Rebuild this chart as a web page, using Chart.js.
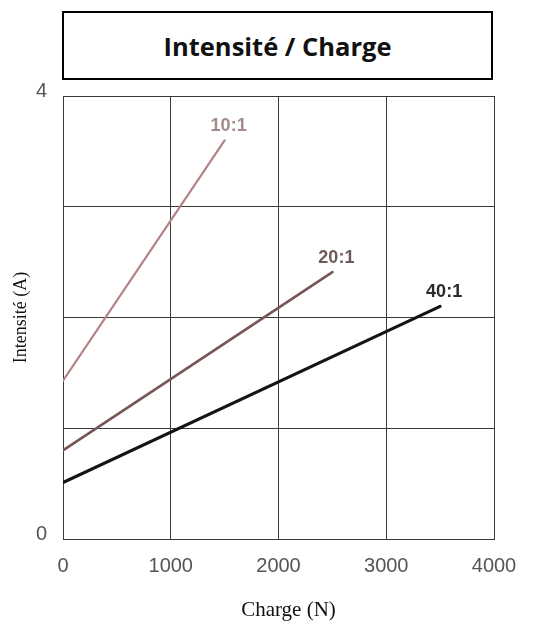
<!DOCTYPE html>
<html>
<head>
<meta charset="utf-8">
<script src="https://cdn.jsdelivr.net/npm/chart.js@4.4.1/dist/chart.umd.min.js"></script>
<style>
  html, body { margin: 0; padding: 0; background: #fff; }
  #wrap { position: relative; width: 539px; height: 625px; }
  #titlebox {
    position: absolute; left: 62px; top: 11px; width: 427px; height: 65px;
    border: 2px solid #000; background: #fff;
    display: flex; align-items: center; justify-content: center;
    font-family: "Open Sans", sans-serif; font-weight: bold; font-size: 25.5px; color: #111;
    box-sizing: content-box;
  }
  canvas { position: absolute; left: 0; top: 0; }
</style>
</head>
<body>
<div id="wrap">
  <canvas id="c" width="539" height="625"></canvas>
  <div id="titlebox">Intensité / Charge</div>
</div>
<script>
// Data
const seriesNames = ["10:1", "20:1", "40:1"];
const chargeN = [
  [0, 1500],
  [0, 2500],
  [0, 3500]
];
const intensiteA = [
  [1.43, 3.60],
  [0.80, 2.41],
  [0.51, 2.10]
];
const xTicks = [0, 1000, 2000, 3000, 4000];
const yTicksShown = [0, 4];
const xTitle = "Charge (N)";

const lineColors = ["#b08484", "#785656", "#141414"];
const labelColors = ["#a58a8a", "#6e5c5c", "#2a2a2a"];
const lineWidths = [2.2, 2.6, 3];

const datasets = seriesNames.map((name, i) => ({
  label: name,
  data: chargeN[i].map((x, j) => ({ x: x, y: intensiteA[i][j] })),
  borderColor: lineColors[i],
  borderWidth: lineWidths[i],
  borderCapStyle: 'round',
  pointRadius: 0,
  fill: false,
  tension: 0
}));

const endLabels = {
  id: 'endLabels',
  afterDatasetsDraw(chart) {
    const ctx = chart.ctx;
    ctx.save();
    ctx.font = 'bold 18px "Liberation Sans", Arial, sans-serif';
    ctx.textAlign = 'center';
    ctx.textBaseline = 'middle';
    chart.data.datasets.forEach((ds, i) => {
      const last = ds.data[ds.data.length - 1];
      const px = chart.scales.x.getPixelForValue(last.x);
      const py = chart.scales.y.getPixelForValue(last.y);
      ctx.fillStyle = labelColors[i];
      ctx.fillText(ds.label, px + 4, py - 14);
    });
    ctx.restore();
  },
  afterDraw(chart) {
    const ctx = chart.ctx;
    const a = chart.chartArea;
    ctx.save();
    ctx.font = '21px "Liberation Serif", "Times New Roman", serif';
    ctx.fillStyle = '#111';
    ctx.textAlign = 'center';
    ctx.textBaseline = 'middle';
    ctx.fillText(xTitle, (a.left + a.right) / 2 + 10, a.bottom + 71);
    ctx.restore();
  }
};

new Chart(document.getElementById('c'), {
  type: 'line',
  data: { datasets: datasets },
  options: {
    responsive: false,
    animation: false,
    layout: { padding: { top: 96, right: 45, left: 0, bottom: 0 } },
    plugins: { legend: { display: false }, tooltip: { enabled: false }, title: { display: false } },
    scales: {
      x: {
        type: 'linear',
        min: 0, max: 4000,
        afterBuildTicks: (s) => { s.ticks = xTicks.map(v => ({ value: v })); },
        afterFit: (s) => { s.height = 86; },
        grid: { color: '#3a3a3a', lineWidth: 1, drawTicks: false },
        border: { color: '#3a3a3a', width: 1 },
        ticks: {
          padding: 15,
          color: '#555',
          font: { family: '"Liberation Sans", Arial, sans-serif', size: 20 },
          callback: (v) => String(v)
        },
        title: { display: false, text: xTitle }
      },
      y: {
        type: 'linear',
        min: 0, max: 4,
        ticks: {
          stepSize: 1,
          padding: 16,
          color: '#555',
          labelOffset: -5,
          font: { family: '"Liberation Sans", Arial, sans-serif', size: 20 },
          callback: (v) => yTicksShown.includes(v) ? String(v) : ''
        },
        afterFit: (s) => { s.width = 63; },
        grid: { color: '#3a3a3a', lineWidth: 1, drawTicks: false },
        border: { color: '#3a3a3a', width: 1 },
        title: {
          display: true, text: 'Intensité (A)',
          color: '#111',
          font: { family: '"Liberation Serif", "Times New Roman", serif', size: 18 },
          padding: { top: 10, bottom: 0 }
        }
      }
    }
  },
  plugins: [endLabels]
});
</script>
</body>
</html>
